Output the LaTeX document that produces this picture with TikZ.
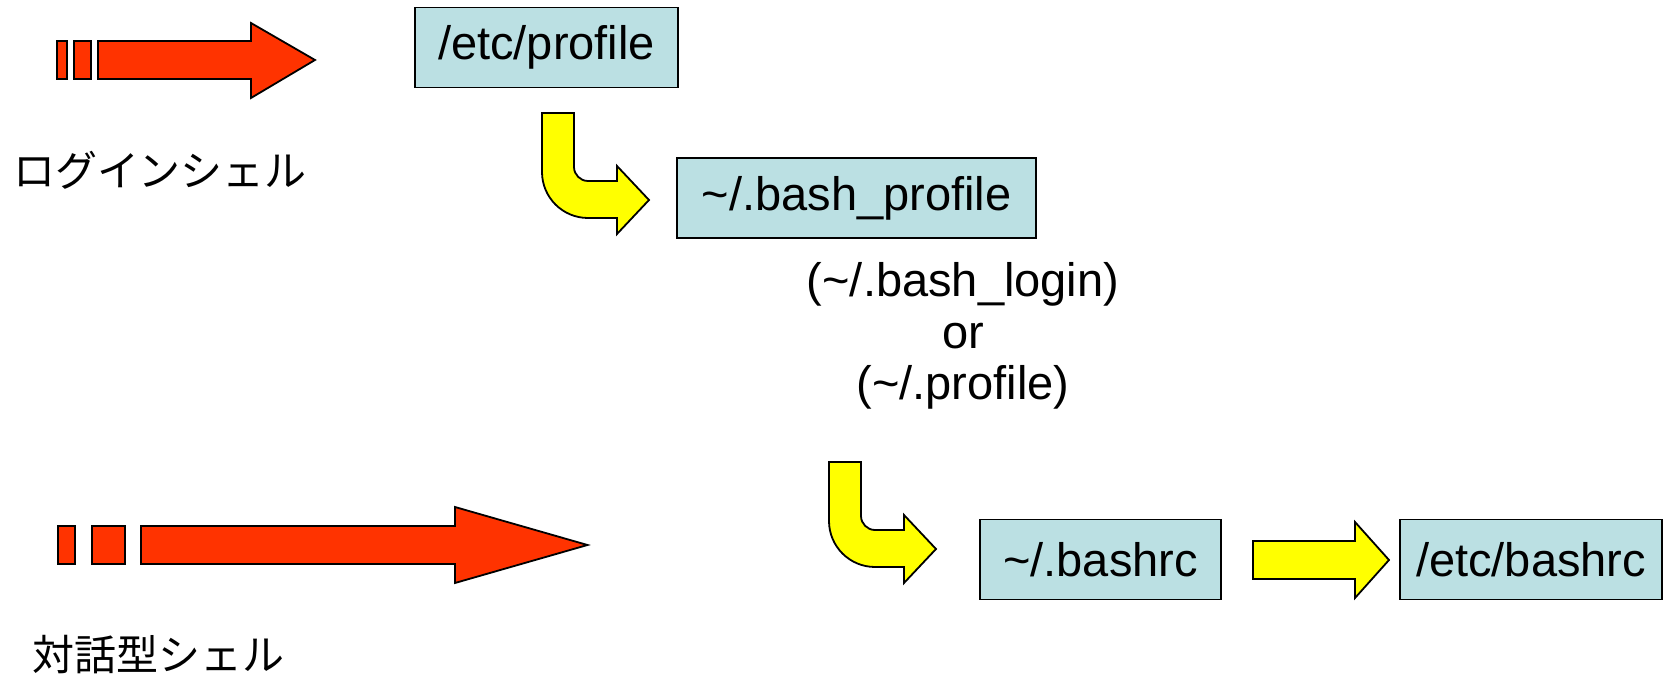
\documentclass[tikz,border=0pt]{standalone}
\usepackage{fontspec}
\setmainfont{Liberation Sans}
\newfontfamily\jpfont{Noto Sans CJK JP}

\definecolor{boxcyan}{RGB}{187,224,227}
\definecolor{shellred}{RGB}{255,51,0}
\definecolor{flowyellow}{RGB}{255,255,0}

\tikzset{
  filebox/.style={draw=black, line width=0.7pt, fill=boxcyan, minimum height=40pt,
    inner sep=0pt, font=\fontsize{23.5}{25.5}\selectfont},
  redarrow/.style={draw=black, line width=0.9pt, fill=shellred, line join=miter},
  yellowarrow/.style={draw=black, line width=0.9pt, fill=flowyellow, line join=miter},
  notetext/.style={align=center, inner sep=0pt, font=\fontsize{23.5}{25.7}\selectfont},
  shelltext/.style={inner sep=0pt, font=\jpfont\fontsize{21}{21}\selectfont},
  bendarrow/.pic={
    \draw[yellowarrow] (0,0) -- (32,0) -- (32,54)
      .. controls (32,61.7) and (38.3,68) .. (46,68) -- (75,68) -- (75,53)
      -- (107,87) -- (75,121) -- (75,105) -- (46,105)
      .. controls (20.6,105) and (0,84.4) .. (0,59) -- cycle;
  }
}

\begin{document}
\begin{tikzpicture}[x=0.5pt, y=-0.5pt]
\useasboundingbox (0,0) rectangle (1666,678);

% -----------------------
% Fichiers
% -----------------------
\node[filebox, minimum width=131.5pt] (etcprofile) at (546.5,47.5) {/etc/profile};
\node[filebox, minimum width=179.5pt] (bashprofile) at (856.5,198) {\textasciitilde/.bash\_profile};
\node[filebox, minimum width=120.5pt] (bashrc) at (1100.5,559.5) {\textasciitilde/.bashrc};
\node[filebox, minimum width=131pt] (etcbashrc) at (1531,559.5) {/etc/bashrc};

\node[notetext] (alternatives) at (963,336)
  {(\textasciitilde/.bash\_login)\\or\\(\textasciitilde/.profile)};

% -----------------------
% Shells
% -----------------------
\node[shelltext] (loginshell) at (160,170) {ログインシェル};
\node[shelltext] (interactive) at (158.5,655) {対話型シェル};

% -----------------------
% Flèches rouges
% -----------------------
\draw[redarrow] (57,41) rectangle (67,79);
\draw[redarrow] (74,41) rectangle (91,79);
\draw[redarrow] (98,41) -- (251,41) -- (251,23) -- (315,60) -- (251,98) -- (251,79) -- (98,79) -- cycle;

\draw[redarrow] (58,526) rectangle (75,564);
\draw[redarrow] (92,526) rectangle (125,564);
\draw[redarrow] (141,526) -- (455,526) -- (455,507) -- (587.5,545) -- (455,583) -- (455,564) -- (141,564) -- cycle;

% -----------------------
% Flèches jaunes
% -----------------------
\pic at (542,113) {bendarrow};
\pic at (829,462) {bendarrow};

\draw[yellowarrow] (1253,541) -- (1355,541) -- (1355,522) -- (1389,560) -- (1355,598) -- (1355,579) -- (1253,579) -- cycle;

\end{tikzpicture}
\end{document}
